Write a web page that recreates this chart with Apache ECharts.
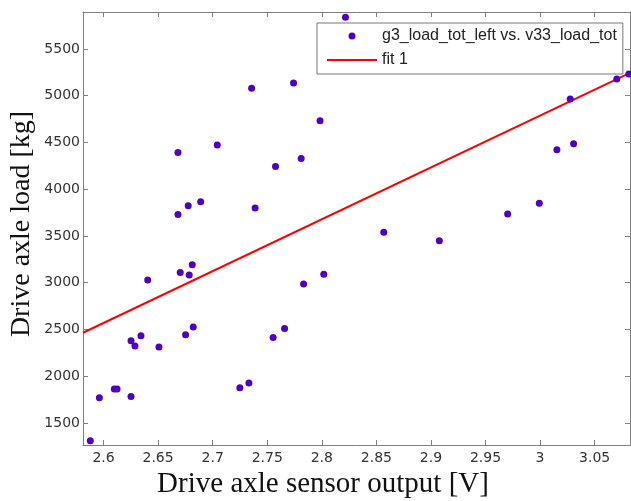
<!DOCTYPE html>
<html>
<head>
<meta charset="utf-8">
<script src="https://cdn.jsdelivr.net/npm/echarts@6/dist/echarts.min.js"></script>
<style>
html,body{margin:0;padding:0;background:#fff;}
#chart{width:631px;height:501px;}
</style>
</head>
<body>
<div id="chart"></div>
<script>
// ---- data ----
const sensorV = [2.5879, 2.5962, 2.6099, 2.6124, 2.6252, 2.6252, 2.6288, 2.6343, 2.6405, 2.6508,
  2.6703, 2.6785, 2.6813, 2.6752, 2.6822, 2.7357, 2.7741, 2.7984, 2.6682, 2.7042,
  2.7576, 2.7811, 2.6682, 2.6776, 2.6890, 2.7389, 2.7833, 2.8018, 2.7554, 2.7659,
  2.7249, 2.7332, 2.8217, 2.8568, 2.9077, 2.9703, 2.9993, 3.0154, 3.0307, 3.0276,
  3.0703, 3.0813];
const axleLoad = [1311, 1771, 1864, 1864, 1784, 2380, 2323, 2433, 3028, 2312,
  3110, 3082, 3192, 2444, 2526, 5080, 5137, 4731, 4392, 4474,
  4242, 4328, 3729, 3822, 3865, 3798, 2986, 3092, 2415, 2511,
  1877, 1928, 5839, 3541, 3448, 3734, 3851, 4421, 4485, 4966,
  5179, 5233];
const fitX = [2.5812, 3.0824];
const fitY = [2465, 5244];
const xTicks = [2.6, 2.65, 2.7, 2.75, 2.8, 2.85, 2.9, 2.95, 3, 3.05];
const yTicks = [1500, 2000, 2500, 3000, 3500, 4000, 4500, 5000, 5500];
const xRange = [2.5812, 3.0824];
const yRange = [1265, 5895];
const scatterName = 'g3_load_tot_left vs. v33_load_tot';
const fitName = 'fit 1';
const xTitle = 'Drive axle sensor output [V]';
const yTitle = 'Drive axle load [kg]';

const scatterData = sensorV.map((v, i) => [v, axleLoad[i]]);
const fitData = fitX.map((v, i) => [v, fitY[i]]);

const axisColor = '#808080';
const labelFont = {fontFamily: 'DejaVu Sans', fontSize: 14, color: '#333'};

function mkX(pos, showLabel) {
  return {
    type: 'value', position: pos, min: xRange[0], max: xRange[1],
    axisLine: {show: true, onZero: false, lineStyle: {color: axisColor, width: 1}},
    axisTick: {show: true, inside: true, length: 5, customValues: xTicks, lineStyle: {color: axisColor}},
    axisLabel: Object.assign({show: showLabel, margin: 6, customValues: xTicks,
      formatter: v => String(v)}, labelFont),
    splitLine: {show: false}
  };
}
function mkY(pos, showLabel) {
  return {
    type: 'value', position: pos, min: yRange[0], max: yRange[1],
    axisLine: {show: true, onZero: false, lineStyle: {color: axisColor, width: 1}},
    axisTick: {show: true, inside: true, length: 5, customValues: yTicks, lineStyle: {color: axisColor}},
    axisLabel: Object.assign({show: showLabel, margin: 3, customValues: yTicks,
      formatter: v => String(v)}, labelFont),
    splitLine: {show: false}
  };
}

const chart = echarts.init(document.getElementById('chart'), null, {renderer: 'canvas'});
chart.setOption({
  animation: false,
  backgroundColor: '#fff',
  grid: {left: 83, right: 1, top: 12, bottom: 56, containLabel: false},
  xAxis: [mkX('bottom', true), mkX('top', false)],
  yAxis: [mkY('left', true), mkY('right', false)],
  legend: {
    left: 317, top: 23, orient: 'vertical',
    backgroundColor: '#fff', borderColor: '#777', borderWidth: 1, borderRadius: 0,
    padding: [5, 6, 6, 10],
    itemWidth: 50, itemHeight: 7, itemGap: 8,
    textStyle: {fontFamily: 'Liberation Sans', fontSize: 16, color: '#222'},
    data: [
      {name: scatterName, icon: 'circle', itemStyle: {color: '#5000c0', opacity: 1}},
      {name: fitName, icon: 'path://M0,0L50,0L50,2L0,2Z', itemStyle: {color: '#ff0000', borderWidth: 0}}
    ]
  },
  series: [
    {
      name: scatterName, type: 'scatter', xAxisIndex: 0, yAxisIndex: 0,
      symbol: 'circle', symbolSize: 7,
      itemStyle: {color: '#5000c0', opacity: 1},
      data: scatterData, z: 3
    },
    {
      name: fitName, type: 'line', xAxisIndex: 0, yAxisIndex: 0,
      symbol: 'none', showSymbol: false,
      lineStyle: {color: '#ff0000', width: 2},
      itemStyle: {color: '#ff0000'},
      data: fitData, z: 2
    }
  ],
  graphic: [
    {
      type: 'text', x: 323, y: 484,
      style: {text: xTitle, fontFamily: 'Liberation Serif', fontSize: 29, fill: '#111',
        textAlign: 'center', textVerticalAlign: 'middle'}
    },
    {
      type: 'text', x: 22, y: 224, rotation: Math.PI / 2,
      style: {text: yTitle, fontFamily: 'Liberation Serif', fontSize: 28, fill: '#111',
        textAlign: 'center', textVerticalAlign: 'middle'}
    }
  ]
});
</script>
</body>
</html>
